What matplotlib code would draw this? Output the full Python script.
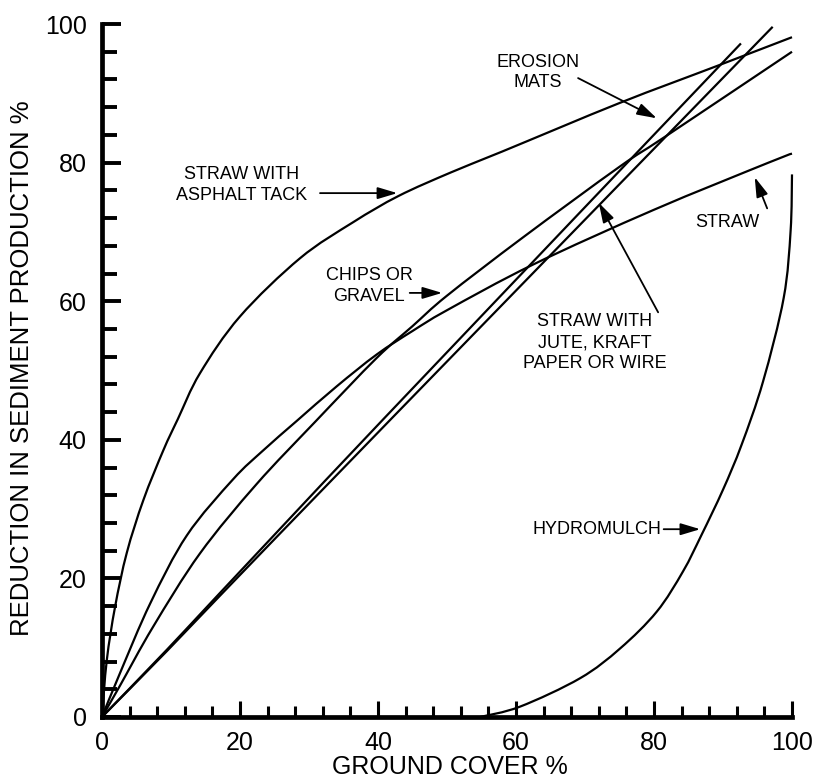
import matplotlib
matplotlib.use("Agg")
import matplotlib.pyplot as plt
from matplotlib.path import Path
from matplotlib.patches import PathPatch
from matplotlib.ticker import MultipleLocator

plt.rcParams['font.family'] = ['Liberation Sans', 'DejaVu Sans']

# curves (ground cover %, reduction %)
asphalt_x = [0, 0.7, 1.9, 3.6, 6, 8.9, 11, 14.2, 20, 28.7, 36.4, 43, 50.6, 58, 75, 89, 100]
asphalt_y = [0, 8.2, 15.9, 23.7, 31.3, 38.5, 43.0, 49.6, 57.8, 66.2, 71.4, 75.2, 78.6, 81.6, 88.6, 93.9, 98.1]

straw_x = [0, 2.6, 7, 12.3, 19, 23.4, 28.2, 34, 39.8, 45, 50, 62.5, 80, 96.6, 100]
straw_y = [0, 6.3, 16.4, 26.2, 34.3, 38.5, 42.7, 47.7, 52.3, 55.7, 58.7, 65.3, 73.2, 80, 81.3]

chips_x = [0, 2.6, 7.4, 14.2, 22.4, 30.9, 39.8, 45, 50, 61, 75, 81.7, 100]
chips_y = [0, 4.5, 13, 23.6, 33.6, 42.6, 51.8, 56.4, 60.8, 69.2, 79.4, 83.8, 96]

mats_x = [0, 9.4, 17.1, 40.8, 92.6]
mats_y = [0, 9.7, 17.9, 43, 97.2]

jute_x = [0, 9.4, 17.1, 41.7, 97.2]
jute_y = [0, 9.5, 17.5, 42.8, 99.6]

hydro_x = [54.8, 60.6, 69.3, 75.1, 80.4, 84.2, 86.9, 90, 92.7, 95.8, 98.8, 99.8, 100]
hydro_y = [0, 1.5, 5.6, 9.9, 15.2, 21, 26.3, 32.8, 39.3, 48.4, 60.5, 70.2, 78.3]


def smooth_path(xs, ys):
    # Catmull-Rom through the read points, drawn as cubic Bezier segments
    pts = list(zip(xs, ys))
    verts = [pts[0]]
    codes = [Path.MOVETO]
    n = len(pts)
    for i in range(n - 1):
        p0 = pts[max(i - 1, 0)]
        p1 = pts[i]
        p2 = pts[i + 1]
        p3 = pts[min(i + 2, n - 1)]
        c1 = (p1[0] + (p2[0] - p0[0]) / 6, p1[1] + (p2[1] - p0[1]) / 6)
        c2 = (p2[0] - (p3[0] - p1[0]) / 6, p2[1] - (p3[1] - p1[1]) / 6)
        verts += [c1, c2, p2]
        codes += [Path.CURVE4] * 3
    return Path(verts, codes)


fig = plt.figure(figsize=(8.17, 7.83), dpi=100)
ax = fig.add_axes([0.1248, 0.0843, 0.8446, 0.885])

for xs, ys in [(asphalt_x, asphalt_y), (straw_x, straw_y), (chips_x, chips_y),
               (mats_x, mats_y), (jute_x, jute_y), (hydro_x, hydro_y)]:
    ax.add_patch(PathPatch(smooth_path(xs, ys), fill=False, edgecolor='black',
                           lw=1.6, clip_on=False, zorder=2, capstyle='butt'))

ax.set_xlim(0, 100)
ax.set_ylim(0, 100)
for side in ['top', 'right']:
    ax.spines[side].set_visible(False)
for side in ['left', 'bottom']:
    ax.spines[side].set_linewidth(3.4)
    ax.spines[side].set_zorder(3)

ax.xaxis.set_major_locator(MultipleLocator(20))
ax.xaxis.set_minor_locator(MultipleLocator(4))
ax.yaxis.set_major_locator(MultipleLocator(20))
ax.yaxis.set_minor_locator(MultipleLocator(4))

ax.tick_params(axis='x', which='major', direction='in', length=11.5, width=2.2, pad=10, labelsize=18)
ax.tick_params(axis='x', which='minor', direction='in', length=8, width=2.2)
ax.tick_params(axis='y', which='major', direction='in', length=14, width=2.8, pad=11, labelsize=18)
ax.tick_params(axis='y', which='minor', direction='in', length=11, width=2.8)

fig.text(450 / 817, 1 - 767 / 783, 'GROUND COVER %', fontsize=18, ha='center', va='center')
fig.text(22 / 817, 1 - 368 / 783, 'REDUCTION IN SEDIMENT PRODUCTION %', fontsize=18.5,
         rotation=90, ha='center', va='center')

# labels and pointer arrows
labels = [
    ('STRAW WITH\nASPHALT TACK', (20.3, 76.8), (31.6, 75.6), (42.8, 75.6)),
    ('CHIPS OR\nGRAVEL', (38.7, 62.2), (44.6, 61.2), (49.3, 61.2)),
    ('EROSION\nMATS', (63.2, 93.0), (69.0, 92.2), (80.4, 86.4)),
    ('STRAW WITH\nJUTE, KRAFT\nPAPER OR WIRE', (71.4, 54.0), (80.6, 58.4), (72.0, 74.2)),
    ('STRAW', (90.6, 71.4), (96.4, 73.4), (94.6, 77.9)),
    ('HYDROMULCH', (71.7, 27.1), (81.4, 27.1), (86.7, 27.1)),
]
for text, pos, tail, tip in labels:
    ax.text(pos[0], pos[1], text, fontsize=13, ha='center', va='center',
            linespacing=1.3)
    ax.annotate('', xy=tip, xytext=tail,
                arrowprops=dict(arrowstyle='-|>,head_length=0.6,head_width=0.18',
                                color='black', lw=1.3, shrinkA=0, shrinkB=0,
                                mutation_scale=20))

fig.savefig('out.png', dpi=100)
